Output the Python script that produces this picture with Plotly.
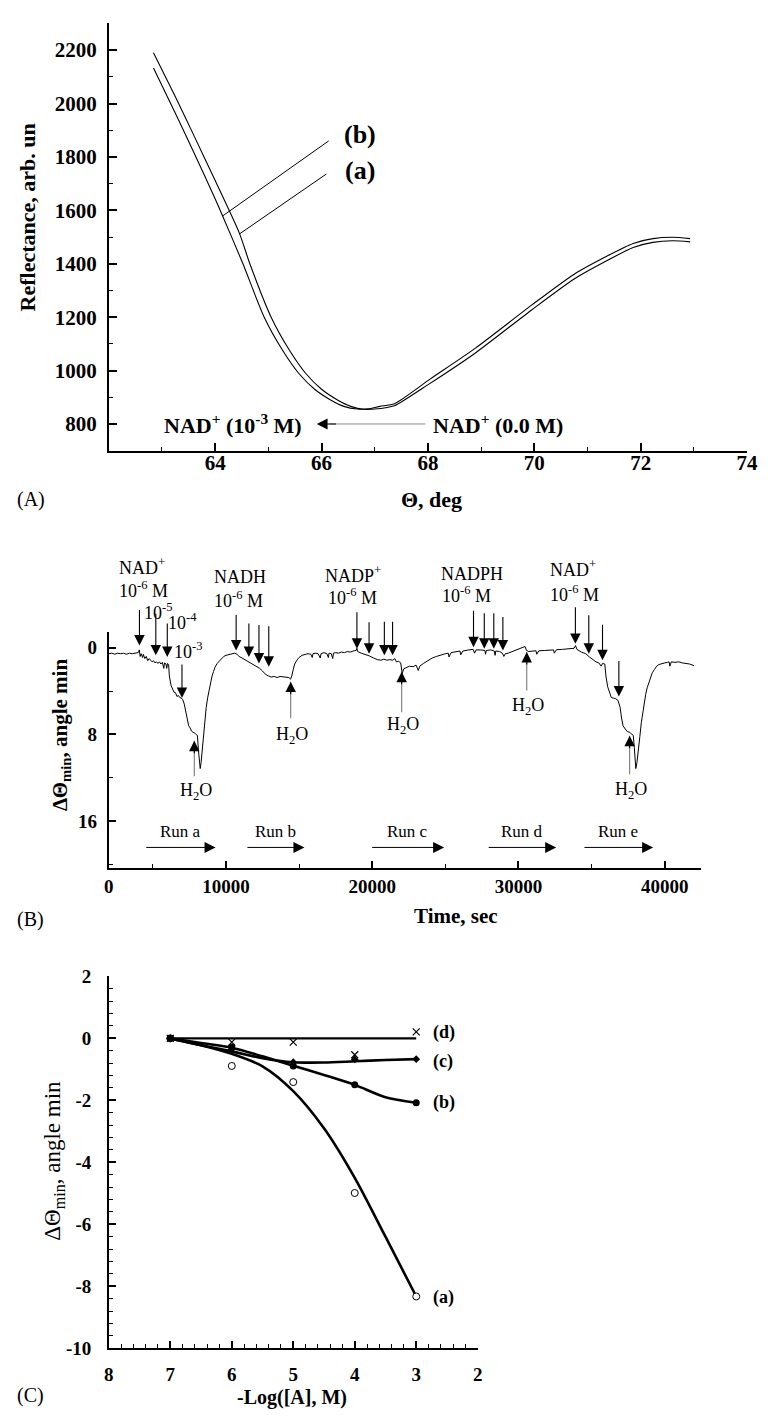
import plotly.graph_objects as go

W, H = 773, 1421
SERIF = "Liberation Serif"

# ---------------- (A) reflectance vs incidence angle ----------------
theta_a = [62.84, 63.24, 63.61, 63.98, 64.46, 64.65, 65.05, 65.40, 65.70, 66.00, 66.30, 66.55,
           66.80, 67.06, 67.20, 67.37, 68.04, 68.90, 69.95, 70.75, 71.37, 71.86, 72.23, 72.60, 72.93]
refl_a = [2190, 2030, 1876, 1720, 1512, 1401, 1201, 1075, 990, 930, 890, 866,
          855, 857, 861, 868, 952, 1067, 1227, 1343, 1412, 1461, 1480, 1486, 1482]
theta_b = [62.84, 63.24, 63.61, 63.98, 64.14, 64.52, 64.92, 65.27, 65.57, 65.87, 66.17, 66.42,
           66.67, 66.90, 67.10, 67.37, 68.04, 68.90, 69.95, 70.75, 71.37, 71.86, 72.23, 72.60, 72.93]
refl_b = [2133, 1968, 1812, 1652, 1579, 1401, 1201, 1075, 990, 930, 890, 866,
          856, 857, 866, 876, 968, 1085, 1245, 1361, 1429, 1476, 1494, 1499, 1494]

# ---------------- (B) sensorgram: shift of resonance minimum ----------------
time_s = [1990, 2200, 2400, 2600, 2800, 3000, 3200, 3400, 3600, 3800, 4000, 4080, 4130, 4200,
          4300, 4350, 4450, 4550, 4650, 4750, 4850, 4950, 5050, 5150, 5250, 5350, 5450, 5550,
          5650, 5750, 5800, 5900, 5950, 6000, 6080, 6130, 6250, 6350, 6450, 6550, 6650, 6750,
          6850, 6950, 7050, 7150, 7250, 7350, 7450, 7550, 7650, 7750, 7850, 7950, 8050, 8120,
          8180, 8240, 8300, 8380, 8460, 8550, 8650, 8750, 8850, 8950, 9050, 9150, 9250, 9400,
          9550, 9700, 9850, 10000, 10200, 10400, 10600, 10750, 10900, 11100, 11300, 11500,
          11700, 11900, 12100, 12300, 12500, 12700, 12900, 13100, 13300, 13500, 13700, 13900,
          14100, 14300, 14420, 14500, 14600, 14700, 14850, 15000, 15200, 15400, 15600, 15800,
          15900, 15950, 16100, 16300, 16450, 16500, 16700, 16900, 17000, 17050, 17200, 17300,
          17350, 17500, 17700, 17900, 18100, 18300, 18500, 18700, 18900, 18955, 19000, 19250,
          19500, 19800, 20100, 20350, 20600, 20800, 21000, 21200, 21400, 21550, 21650, 21800,
          21950, 22050, 22150, 22350, 22550, 22800, 23000, 23150, 23250, 23500, 23800, 24100,
          24400, 24700, 25000, 25200, 25250, 25400, 25800, 26000, 26050, 26200, 26600, 26900,
          27000, 27100, 27400, 27700, 27750, 27800, 28100, 28350, 28400, 28450, 28700, 28900,
          29000, 29100, 29300, 29600, 29900, 30200, 30450, 30550, 30700, 31000, 31200, 31250,
          31400, 31800, 32200, 32400, 32450, 32600, 33000, 33400, 33800, 33900, 34000, 34300,
          34600, 34850, 35100, 35300, 35500, 35650, 35750, 35900, 35980, 36100, 36250, 36350,
          36500, 36650, 36800, 36950, 37050, 37150, 37300, 37450, 37600, 37750, 37850, 37920,
          37970, 38024, 38100, 38200, 38300, 38400, 38500, 38600, 38700, 38800, 38900, 39000,
          39150, 39300, 39450, 39600, 39800, 40000, 40200, 40300, 40350, 40450, 40700, 40950,
          41200, 41450, 41700, 42000]
d_theta = [0.55, 0.50, 0.60, 0.50, 0.55, 0.50, 0.60, 0.50, 0.55, 0.50, 0.45, 0.20, 0.80, 0.55,
           0.90, 0.60, 1.00, 0.80, 1.20, 1.00, 1.15, 1.30, 1.20, 1.40, 1.30, 1.45, 1.30, 1.50,
           1.35, 1.90, 1.40, 1.50, 1.90, 1.45, 1.55, 2.60, 3.50, 3.80, 4.10, 4.15, 4.50, 4.40,
           4.60, 4.65, 4.80, 5.20, 6.00, 6.80, 7.20, 7.40, 7.70, 7.80, 7.85, 8.00, 8.10, 9.50,
           10.40, 11.15, 10.60, 9.40, 8.00, 6.60, 5.50, 4.60, 3.80, 3.10, 2.60, 2.20, 1.80, 1.45,
           1.20, 0.95, 0.80, 0.70, 0.62, 0.55, 0.50, 0.60, 0.80, 0.95, 1.10, 1.25,
           1.40, 1.55, 1.75, 1.90, 2.15, 2.45, 2.60, 2.70, 2.65, 2.75, 2.65, 2.70,
           2.70, 2.75, 2.90, 2.60, 2.00, 1.50, 1.15, 0.90, 0.70, 0.60, 0.55, 0.60,
           0.90, 0.55, 0.50, 0.55, 0.95, 0.55, 0.45, 0.55, 0.90, 0.50, 0.55, 1.00,
           0.50, 0.45, 0.50, 0.40, 0.45, 0.35, 0.40, 0.30, 0.25, 0.05, 0.35, 0.50,
           0.60, 0.75, 0.95, 1.10, 1.15, 1.05, 1.15, 1.10, 1.15, 1.00, 1.30, 1.25,
           1.40, 2.40, 1.95, 1.80, 1.70, 1.75, 1.60, 2.10, 1.70, 1.45, 1.20, 0.95,
           0.80, 0.65, 0.55, 0.50, 0.85, 0.45, 0.35, 0.30, 0.65, 0.30, 0.20, 0.15,
           0.50, 0.20, 0.20, 0.25, 0.60, 0.25, 0.20, 0.30, 0.70, 0.30, 0.35, 0.50,
           0.80, 0.55, 0.50, 0.35, 0.15, 0.00, -0.12, 0.25, 0.35, 0.30, 0.28, 0.60,
           0.28, 0.25, 0.22, 0.20, 0.50, 0.18, 0.15, 0.10, 0.05, -0.20, 0.15, 0.40,
           0.55, 0.85, 1.10, 1.30, 1.40, 1.70, 1.45, 1.50, 2.60, 3.60, 4.20, 4.60,
           4.65, 4.70, 4.85, 5.50, 6.50, 7.20, 7.50, 7.75, 7.80, 7.95, 8.10, 9.20,
           10.30, 11.15, 10.60, 9.60, 8.20, 6.90, 5.90, 5.10, 4.30, 3.70, 3.30, 2.80,
           2.30, 2.00, 1.70, 1.55, 1.45, 1.40, 1.35, 1.30, 1.70, 1.30, 1.35, 1.30,
           1.40, 1.45, 1.50, 1.65]

# injection arrows (tip positions on the trace)
inject_t = [4085, 5204, 5988, 6993, 10697, 11568, 12257, 12927, 18955, 19785, 20830, 21393,
            26926, 27663, 28313, 28935, 33892, 34809, 35747, 36865]
inject_v = [-0.21, 0.70, 0.85, 4.64, 0.25, 0.85, 1.45, 1.76, 0.09, 0.55, 0.70, 0.70,
            -0.05, 0.09, 0.09, 0.25, -0.36, 0.55, 1.15, 4.49]
inject_len_px = [37, 43, 35, 35, 37, 35, 40, 42, 38, 33, 35, 35, 38, 37, 37, 35, 38, 40, 37, 37]

# water rinse arrows
rinse_t = [7836, 14427, 22016, 30566, 37601]
rinse_v = [8.58, 3.13, 2.21, 0.40, 8.13]
rinse_len_px = [37, 38, 42, 40, 40]

# run spans
run_names = ["Run a", "Run b", "Run c", "Run d", "Run e"]
run_start = [4447, 11366, 19893, 27863, 34407]
run_end = [9290, 15365, 24916, 32579, 39209]

# ---------------- (C) calibration vs concentration ----------------
neg_log_c = [7, 6, 5, 4, 3]
pts_a = [0, -0.89, -1.41, -4.99, -8.33]
pts_b = [0, -0.28, -0.89, -1.50, -2.08]
pts_c = [0, -0.35, -0.77, -0.68, -0.67]
pts_d = [0, -0.12, -0.12, -0.53, 0.21]
fit_x = [7, 6.5, 6, 5.5, 5, 4.5, 4, 3.5, 3]
fit_a = [0, -0.22, -0.50, -0.90, -1.70, -2.90, -4.50, -6.40, -8.33]
fit_b = [0, -0.15, -0.30, -0.58, -0.88, -1.18, -1.50, -1.90, -2.08]
fit_c = [0, -0.22, -0.42, -0.64, -0.77, -0.78, -0.74, -0.70, -0.67]
fit_d = [0, 0, 0, 0, 0, 0, 0, 0, 0]
c_yticks = [2, 0, -2, -4, -6, -8, -10]


def px(x):
    return x / W


def py(y):
    return 1 - y / H


fig = go.Figure()

# (A)
for th, rf in ((theta_a, refl_a), (theta_b, refl_b)):
    fig.add_trace(go.Scatter(x=th, y=rf, mode="lines", xaxis="x", yaxis="y",
                             line=dict(color="black", width=1.1, shape="spline", smoothing=0.7),
                             showlegend=False, hoverinfo="skip"))

# (B)
fig.add_trace(go.Scatter(x=time_s, y=d_theta, mode="lines", xaxis="x2", yaxis="y2",
                         line=dict(color="black", width=1), showlegend=False, hoverinfo="skip"))

# (C) fitted curves
for fy, w in ((fit_a, 2.6), (fit_b, 2.6), (fit_c, 2.6), (fit_d, 2.2)):
    fig.add_trace(go.Scatter(x=fit_x, y=fy, mode="lines", xaxis="x3", yaxis="y3",
                             line=dict(color="black", width=w, shape="spline", smoothing=0.8),
                             showlegend=False, hoverinfo="skip"))
# (C) measured points
marker_styles = [
    (pts_a, dict(symbol="circle", size=7, color="white", line=dict(width=1, color="black"))),
    (pts_b, dict(symbol="circle", size=7, color="black")),
    (pts_c, dict(symbol="diamond", size=6, color="black")),
    (pts_d, dict(symbol="x-thin-open", size=7, color="black", line=dict(width=1.2, color="black"))),
]
for vals, mk in marker_styles:
    fig.add_trace(go.Scatter(x=neg_log_c, y=vals, mode="markers", xaxis="x3", yaxis="y3",
                             marker=mk, showlegend=False, hoverinfo="skip", cliponaxis=False))

ann = []
shapes = []


def bold(size):
    return dict(family=SERIF, size=size, color="black", weight="bold")


def reg(size):
    return dict(family=SERIF, size=size, color="black")


def text(x, y, s, font, xref="paper", yref="paper", xanchor="center", angle=0):
    ann.append(dict(x=x, y=y, xref=xref, yref=yref, text=s, showarrow=False, font=font,
                    xanchor=xanchor, yanchor="middle", textangle=angle))


# ---- (A) annotations ----
text(px(23), py(211), "Reflectance, arb. un", bold(22), angle=-90)
text(px(436), py(497), "Θ, deg", bold(22))
text(px(27), py(497), "(A)", reg(20))
text(66.72, 1883, "(b)", bold(26), "x", "y")
text(66.72, 1748, "(a)", bold(26), "x", "y")
shapes.append(dict(type="line", xref="x", yref="y", x0=66.135, y0=1860, x1=64.14, y1=1579,
                   line=dict(color="black", width=1)))
shapes.append(dict(type="line", xref="x", yref="y", x0=66.09, y0=1736, x1=64.46, y1=1512,
                   line=dict(color="black", width=1)))
text(65.67, 800, "NAD<sup>+</sup> (10<sup>-3</sup> M)", bold(22), "x", "y", xanchor="right")
text(68.05, 800, "NAD<sup>+</sup> (0.0 M)", bold(22), "x", "y", xanchor="left")
ann.append(dict(x=66.15, y=800, xref="x", yref="y", ax=67.98, ay=800, axref="x", ayref="y",
                showarrow=True, arrowhead=0, arrowwidth=1, arrowcolor="#8a8a8a", text=""))
ann.append(dict(x=65.91, y=800, xref="x", yref="y", ax=66.3, ay=800, axref="x", ayref="y",
                showarrow=True, arrowhead=2, arrowsize=1.8, arrowwidth=1.2, arrowcolor="black",
                text=""))

# ---- (B) annotations ----
text(px(57), py(736), "ΔΘ<sub>min</sub>, angle min", bold(21), angle=-90)
text(px(461), py(920), "Time, sec", bold(21))
text(px(26), py(923), "(B)", reg(20))
for t, v, L in zip(inject_t, inject_v, inject_len_px):
    ann.append(dict(x=t, y=v, xref="x2", yref="y2", ax=0, ay=-L, showarrow=True, arrowhead=2,
                    arrowsize=1.9, arrowwidth=1.1, arrowcolor="black", text="", standoff=0))
for t, v, L in zip(rinse_t, rinse_v, rinse_len_px):
    ann.append(dict(x=t, y=v, xref="x2", yref="y2", ax=0, ay=L, showarrow=True, arrowhead=0,
                    arrowwidth=1.1, arrowcolor="#7a7a7a", text=""))
    ann.append(dict(x=t, y=v, xref="x2", yref="y2", ax=0, ay=14, showarrow=True, arrowhead=2,
                    arrowsize=1.9, arrowwidth=1.1, arrowcolor="black", text=""))
for name, t0, t1 in zip(run_names, run_start, run_end):
    ann.append(dict(x=t1, y=18.43, xref="x2", yref="y2", ax=t0, ay=18.43, axref="x2", ayref="y2",
                    showarrow=True, arrowhead=2, arrowsize=2.2, arrowwidth=1, arrowcolor="black",
                    text=""))
    text((t0 + t1) / 2, py(833.5), name, reg(17), "x2", "paper")

water = "H<sub>2</sub>O"
for t, yy in zip(rinse_t, [793.3, 736.7, 726.7, 706.7, 791.7]):
    text(t + 100, py(yy), water, reg(18), "x2", "paper")

reagent_labels = [
    (4272, 565, "NAD<sup>+</sup>"), (4380, 588, "10<sup>-6</sup> M"),
    (5400, 611, "10<sup>-5</sup>"), (7050, 621, "10<sup>-4</sup>"), (7450, 650, "10<sup>-3</sup>"),
    (10970, 575, "NADH"), (10850, 598, "10<sup>-6</sup> M"),
    (18670, 573, "NADP<sup>+</sup>"), (18670, 595, "10<sup>-6</sup> M"),
    (26820, 572, "NADPH"), (26480, 593, "10<sup>-6</sup> M"),
    (33740, 567, "NAD<sup>+</sup>"), (33850, 592, "10<sup>-6</sup> M"),
]
for t, yy, s in reagent_labels:
    text(t, py(yy), s, reg(18), "x2", "paper")

# ---- (C) annotations ----
text(px(50), py(1168), "ΔΘ<sub>min</sub>, angle min", reg(23), angle=-90)
text(px(293), py(1408), "-Log([A], M)", bold(20))
text(px(26), py(1406), "(C)", reg(20))
for lab, yv in (("(d)", 0.19), ("(c)", -0.75), ("(b)", -2.08), ("(a)", -8.35)):
    text(2.76, yv, lab, bold(18), "x3", "y3", xanchor="left")

axis_common = dict(showgrid=False, zeroline=False, showline=True, linecolor="black",
                   ticks="inside", tickcolor="black", mirror=False)

fig.update_layout(
    width=W, height=H, margin=dict(l=0, r=0, t=0, b=0),
    paper_bgcolor="white", plot_bgcolor="white", showlegend=False,
    annotations=ann, shapes=shapes,
    xaxis=dict(axis_common, domain=[px(106), px(757.7)], range=[62, 74], anchor="y",
               tickvals=[64, 66, 68, 70, 72, 74], ticklen=8, tickwidth=1.5, linewidth=1.8,
               tickfont=bold(21), ticklabelstandoff=-8,
               minor=dict(ticks="inside", ticklen=4, tickwidth=1.3, tickcolor="black",
                          tickmode="array", tickvals=[63, 65, 67, 69, 71, 73])),
    yaxis=dict(axis_common, domain=[py(447.3), py(13.6)], range=[700, 2300], anchor="x",
               tickvals=list(range(800, 2201, 200)), ticklen=8, tickwidth=1.5, linewidth=1.8,
               tickfont=bold(21), ticklabelstandoff=6,
               minor=dict(ticks="inside", ticklen=4, tickwidth=1.3, tickcolor="black",
                          tickmode="array", tickvals=list(range(900, 2301, 200)))),
    xaxis2=dict(axis_common, domain=[px(106), px(711)], range=[1990, 42500], anchor="y2",
                tickvals=[1990, 10000, 20000, 30000, 40000],
                ticktext=["0", "10000", "20000", "30000", "40000"],
                ticklen=7, tickwidth=1.5, linewidth=1.8, tickfont=bold(19), ticklabelstandoff=0,
                minor=dict(ticks="inside", ticklen=4, tickwidth=1.3, tickcolor="black",
                           tickmode="array", tickvals=[5000, 15000, 25000, 35000])),
    yaxis2=dict(axis_common, domain=[py(871), py(631.7)], range=[20.34, -1.42], anchor="x2",
                tickvals=[0, 8, 16], ticklen=7, tickwidth=1.5, linewidth=1.8, tickfont=bold(19),
                ticklabelstandoff=6,
                minor=dict(ticks="inside", ticklen=4, tickwidth=1.3, tickcolor="black",
                           tickmode="array", tickvals=[4, 12, 20])),
    xaxis3=dict(axis_common, domain=[px(106), px(482.7)], range=[8, 2], anchor="y3",
                tickvals=[8, 7, 6, 5, 4, 3, 2], ticklen=7, tickwidth=1.5, linewidth=1.6,
                tickfont=bold(19), ticklabelstandoff=8,
                minor=dict(ticks="inside", ticklen=4, tickwidth=1.1, tickcolor="black",
                           tickmode="linear", tick0=2, dtick=0.2)),
    yaxis3=dict(axis_common, domain=[py(1358.3), py(980.9)], range=[-10, 2], anchor="x3",
                tickvals=c_yticks, ticktext=[str(v) for v in c_yticks],
                ticklen=7, tickwidth=1.5, linewidth=1.6,
                tickfont=bold(19), ticklabelstandoff=12,
                minor=dict(ticks="inside", ticklen=4, tickwidth=1.1, tickcolor="black",
                           tickmode="linear", tick0=-10, dtick=0.4)),
)

fig.write_html("out.html")
